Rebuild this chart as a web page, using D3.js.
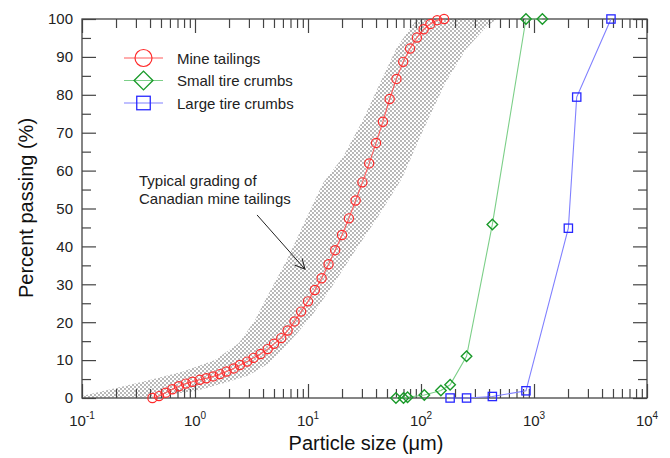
<!DOCTYPE html>
<html>
<head>
<meta charset="utf-8">
<script src="https://cdn.jsdelivr.net/npm/d3@7"></script>
<style>
  body { margin: 0; background: #fff; }
  svg { font-family: Arial, "Liberation Sans", sans-serif; }
</style>
</head>
<body>
<svg id="chart" width="670" height="458"></svg>
<script>
// mine tailings grading (um, % passing)
const mineSize = [0.42, 0.48, 0.55, 0.63, 0.72, 0.83, 0.95, 1.1, 1.26, 1.45, 1.66, 1.9, 2.2, 2.5, 2.9,
    3.3, 3.8, 4.4, 5.0, 5.8, 6.6, 7.6, 8.7, 10, 11.5, 13.2, 15.2, 17.4, 20, 23, 26.4, 30.3, 34.8,
    40, 46, 52.8, 60.6, 69.6, 80, 92, 105.6, 121, 139, 160];
const minePass = [0, 0.5, 1.4, 2.3, 3.1, 3.8, 4.3, 4.8, 5.2, 5.7, 6.3, 7.0, 7.8, 8.7, 9.6,
    10.6, 11.6, 12.9, 14.3, 15.8, 17.8, 20.2, 22.8, 25.5, 28.5, 31.6, 35.3, 39.0, 43.0, 47.4, 52.1, 56.9, 61.9,
    67.3, 72.9, 78.9, 84.2, 88.7, 92.2, 95.1, 97.3, 98.7, 99.7, 100];

const smallSize = [60, 70, 76, 107, 150, 181, 253, 428, 849, 1186];
const smallPass = [0, 0, 0.2, 0.8, 2.0, 3.5, 11, 45.8, 100, 100];

const largeSize = [181, 253, 428, 849, 2014, 2388, 4800];
const largePass = [0, 0, 0.4, 1.9, 44.8, 79.4, 100];

// typical grading band of Canadian mine tailings
const bandFineSize = [0.1, 0.196, 0.39, 0.77, 1.5, 2.45, 3.4, 4.2, 6.5, 9.8, 13.6, 20.4, 30.7, 43.4, 61.4, 92];
const bandFinePass = [0.5, 2.6, 4.7, 6.9, 10, 14.5, 20.6, 25.9, 36.4, 47.8, 56.7, 63.6, 73.4, 83.1, 92.6, 100];
const bandCoarseSize = [470, 380, 250, 163, 102, 68, 40, 25, 16, 11, 8, 5.9, 4.5, 3.0, 1.85, 1.0, 0.4, 0.1];
const bandCoarsePass = [100, 98, 92, 83, 70, 58, 47, 38, 29, 22, 17, 12.7, 9.2, 6, 4, 1.8, 0.3, 0];

const xMajor = [0.1, 1, 10, 100, 1000, 10000];
const xExp = ["-1", "0", "1", "2", "3", "4"];
const yMajor = [0, 10, 20, 30, 40, 50, 60, 70, 80, 90, 100];
const yMinor = [5, 15, 25, 35, 45, 55, 65, 75, 85, 95];

const series = [
    { name: "Mine tailings", xs: mineSize, ys: minePass, stroke: "#ff2a2a", line: "#ff5a5a", sym: "circle", r: 4.6 },
    { name: "Small tire crumbs", xs: smallSize, ys: smallPass, stroke: "#1a9a2a", line: "#7ccf88", sym: "diamond", r: 4.2 },
    { name: "Large tire crumbs", xs: largeSize, ys: largePass, stroke: "#2828ff", line: "#8080ff", sym: "square", r: 4.6 }
];

const svg = d3.select("#chart");
const pLeft = 82, pRight = 647, pTop = 19, pBottom = 398;
const axisColor = "#444";

const x = d3.scaleLog().domain([0.1, 10000]).range([pLeft, pRight]);
const y = d3.scaleLinear().domain([0, 100]).range([pBottom, pTop]);

let xMinor = [];
for (let e = -1; e < 4; e++) {
    for (let m = 2; m <= 9; m++) xMinor.push(m * Math.pow(10, e));
}

// dotted fill for the band
const defs = svg.append("defs");
const pat = defs.append("pattern").attr("id", "dots")
    .attr("patternUnits", "userSpaceOnUse").attr("width", 4).attr("height", 4);
pat.append("circle").attr("cx", 1).attr("cy", 1).attr("r", 0.65).attr("fill", "#333");
pat.append("circle").attr("cx", 3).attr("cy", 3).attr("r", 0.65).attr("fill", "#333");

defs.append("marker").attr("id", "arrow")
    .attr("viewBox", "0 0 12 12").attr("refX", 11).attr("refY", 6)
    .attr("markerWidth", 12).attr("markerHeight", 12).attr("markerUnits", "userSpaceOnUse")
    .attr("orient", "auto")
    .append("path").attr("d", "M1,1 L11,6 L1,11").attr("fill", "none").attr("stroke", "#222").attr("stroke-width", 1);

defs.append("clipPath").attr("id", "plotclip")
    .append("rect").attr("x", pLeft).attr("y", pTop).attr("width", pRight - pLeft).attr("height", pBottom - pTop);

const band = bandFineSize.map((s, i) => [s, bandFinePass[i]])
    .concat(bandCoarseSize.map((s, i) => [s, bandCoarsePass[i]]));

svg.append("path")
    .attr("clip-path", "url(#plotclip)")
    .attr("d", d3.line().x(d => x(d[0])).y(d => y(d[1])).curve(d3.curveLinearClosed)(band))
    .attr("fill", "url(#dots)");

// axes
function styleAxis(g) {
    g.select(".domain").remove();
    g.selectAll(".tick line").attr("stroke", axisColor).attr("stroke-width", 1.2);
    g.selectAll("text").attr("fill", "#222");
}

svg.append("g").attr("transform", `translate(0,${pBottom})`)
    .call(d3.axisBottom(x).tickValues(xMajor).tickSize(-14).tickFormat(""))
    .call(styleAxis);
svg.append("g").attr("transform", `translate(0,${pBottom})`)
    .call(d3.axisBottom(x).tickValues(xMinor).tickSize(-9).tickFormat(""))
    .call(styleAxis);
svg.append("g").attr("transform", `translate(0,${pTop})`)
    .call(d3.axisTop(x).tickValues(xMajor).tickSize(-14).tickFormat(""))
    .call(styleAxis);
svg.append("g").attr("transform", `translate(0,${pTop})`)
    .call(d3.axisTop(x).tickValues(xMinor).tickSize(-9).tickFormat(""))
    .call(styleAxis);

svg.append("g").attr("transform", `translate(${pLeft},0)`)
    .call(d3.axisLeft(y).tickValues(yMajor).tickSize(-14).tickPadding(9))
    .call(styleAxis)
    .selectAll("text").style("font-size", "15px").style("font-family", "Arial, 'Liberation Sans', sans-serif");
svg.append("g").attr("transform", `translate(${pLeft},0)`)
    .call(d3.axisLeft(y).tickValues(yMinor).tickSize(-9).tickFormat(""))
    .call(styleAxis);
svg.append("g").attr("transform", `translate(${pRight},0)`)
    .call(d3.axisRight(y).tickValues(yMajor).tickSize(-14).tickFormat(""))
    .call(styleAxis);
svg.append("g").attr("transform", `translate(${pRight},0)`)
    .call(d3.axisRight(y).tickValues(yMinor).tickSize(-9).tickFormat(""))
    .call(styleAxis);

svg.append("rect")
    .attr("x", pLeft).attr("y", pTop).attr("width", pRight - pLeft).attr("height", pBottom - pTop)
    .attr("fill", "none").attr("stroke", axisColor).attr("stroke-width", 1.3);

// x tick labels as 10^n
xMajor.forEach((v, i) => {
    const t = svg.append("text")
        .attr("x", x(v)).attr("y", 426)
        .attr("text-anchor", "middle")
        .attr("font-size", 15).attr("fill", "#222");
    t.append("tspan").text("10");
    t.append("tspan").attr("font-size", 10).attr("dy", -7).text(xExp[i]);
});

// axis titles
svg.append("text")
    .attr("x", 366).attr("y", 450)
    .attr("text-anchor", "middle").attr("font-size", 20).attr("fill", "#111")
    .text("Particle size (\u03bcm)");
svg.append("text")
    .attr("transform", "translate(33,208) rotate(-90)")
    .attr("text-anchor", "middle").attr("font-size", 20).attr("fill", "#111")
    .text("Percent passing (%)");

// markers
function drawSymbol(g, sym, cx, cy, size, color) {
    if (sym === "circle") {
        g.append("circle").attr("cx", cx).attr("cy", cy).attr("r", size)
            .attr("fill", "none").attr("stroke", color).attr("stroke-width", 1.2);
    } else if (sym === "diamond") {
        const s = size * 1.25;
        g.append("path").attr("d", `M${cx},${cy - s}L${cx + s},${cy}L${cx},${cy + s}L${cx - s},${cy}Z`)
            .attr("fill", "none").attr("stroke", color).attr("stroke-width", 1.4);
    } else {
        const s = size * 0.9;
        g.append("rect").attr("x", cx - s).attr("y", cy - s).attr("width", 2 * s).attr("height", 2 * s)
            .attr("fill", "none").attr("stroke", color).attr("stroke-width", 1.3);
    }
}

const lineGen = d3.line().x(d => x(d[0])).y(d => y(d[1]));
series.forEach(s => {
    const pts = s.xs.map((v, i) => [v, s.ys[i]]);
    svg.append("path").attr("d", lineGen(pts))
        .attr("fill", "none").attr("stroke", s.line).attr("stroke-width", 1.1);
    const g = svg.append("g");
    pts.forEach(p => drawSymbol(g, s.sym, x(p[0]), y(p[1]), s.r, s.stroke));
});

// legend
series.forEach((s, i) => {
    const ly = 58 + i * 22.5;
    svg.append("line").attr("x1", 124).attr("x2", 163).attr("y1", ly).attr("y2", ly)
        .attr("stroke", s.line).attr("stroke-width", 1.1);
    drawSymbol(svg, s.sym, 143.5, ly, s.sym === "circle" ? 8.5 : 7.5, s.stroke);
    svg.append("text").attr("x", 177).attr("y", ly + 5.5)
        .attr("font-size", 15).attr("fill", "#222").text(s.name);
});

// annotation
svg.append("text").attr("x", 139).attr("y", 186).attr("font-size", 15).attr("fill", "#222")
    .text("Typical grading of");
svg.append("text").attr("x", 139).attr("y", 204).attr("font-size", 15).attr("fill", "#222")
    .text("Canadian mine tailings");
svg.append("line")
    .attr("x1", x(3.54)).attr("y1", y(48.3)).attr("x2", x(9.4)).attr("y2", y(34))
    .attr("stroke", "#222").attr("stroke-width", 1).attr("marker-end", "url(#arrow)");
</script>
</body>
</html>
